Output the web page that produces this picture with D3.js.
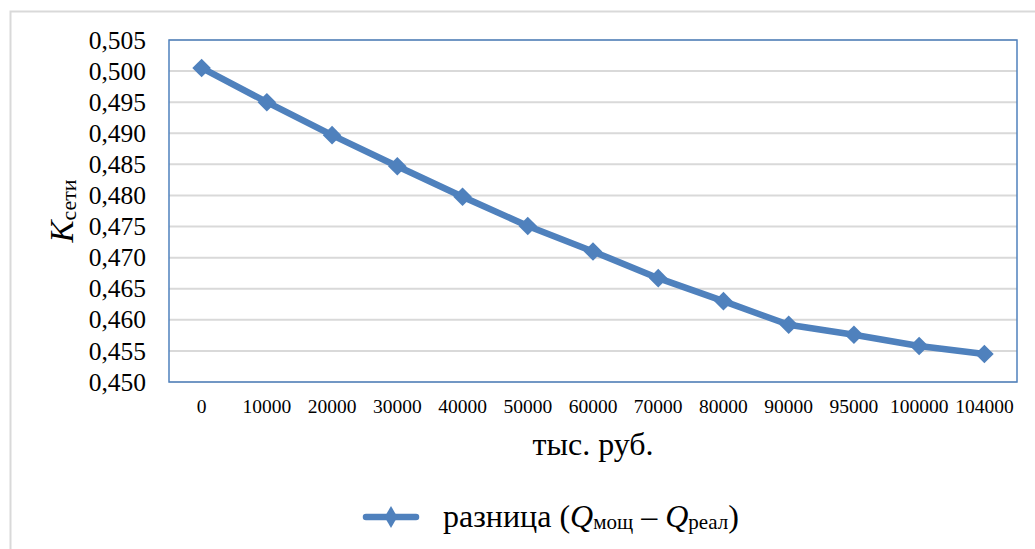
<!DOCTYPE html>
<html><head><meta charset="utf-8">
<script src="https://cdn.jsdelivr.net/npm/d3@7"></script>
<style>body{margin:0;background:#fff}svg{display:block}
svg text{font-family:"Liberation Serif","Times New Roman","DejaVu Serif",serif !important;}</style>
</head><body>
<script>
const categories = ["0","10000","20000","30000","40000","50000","60000","70000","80000","90000","95000","100000","104000"];
const values = [0.5005,0.4950,0.4897,0.4847,0.4798,0.4751,0.4710,0.4667,0.4630,0.4592,0.4576,0.4558,0.4545];
const yTicks = [0.450,0.455,0.460,0.465,0.470,0.475,0.480,0.485,0.490,0.495,0.500,0.505];

const W=1035,H=549;
const svg=d3.select("body").append("svg").attr("width",W).attr("height",H);
const m={l:169,t:40,r:1017,b:382};
svg.append("rect").attr("x",10.5).attr("y",11.5).attr("width",1040).attr("height",560)
  .attr("fill","#fff").attr("stroke","#d9d9d9").attr("stroke-width",2);

const x=d3.scaleBand().domain(categories).range([m.l,m.r]);
const y=d3.scaleLinear().domain([0.450,0.505]).range([m.b,m.t]);

// gridlines
svg.append("g").selectAll("line").data(yTicks).join("line")
  .attr("x1",m.l).attr("x2",m.r).attr("y1",d=>y(d)).attr("y2",d=>y(d))
  .attr("stroke","#d9d9d9").attr("stroke-width",2);

// plot border
svg.append("rect").attr("x",m.l).attr("y",m.t).attr("width",m.r-m.l).attr("height",m.b-m.t)
  .attr("fill","none").attr("stroke","#4f81bd").attr("stroke-width",1.5);

// y axis
const fmt=d=>d3.format(".3f")(d).replace(".",",");
const ya=svg.append("g").attr("transform",`translate(${m.l},0)`)
  .call(d3.axisLeft(y).tickValues(yTicks).tickFormat(fmt).tickSize(0).tickPadding(23));
ya.select(".domain").remove();
ya.selectAll("text").attr("font-size",25.5).attr("fill","#000");

// x axis
const xa=svg.append("g").attr("transform",`translate(0,${m.b})`)
  .call(d3.axisBottom(x).tickSize(0).tickPadding(17));
xa.select(".domain").remove();
xa.selectAll("text").attr("font-size",19.5).attr("fill","#000");

// line
const line=d3.line().x((d,i)=>x(categories[i])+x.bandwidth()/2).y(d=>y(d));
svg.append("path").datum(values).attr("d",line).attr("fill","none")
  .attr("stroke","#4f81bd").attr("stroke-width",6.5).attr("stroke-linejoin","round");
const diamond=d3.symbol().type(d3.symbolDiamond2).size(220);
svg.append("g").selectAll("path").data(values).join("path")
  .attr("d",diamond)
  .attr("transform",(d,i)=>`translate(${x(categories[i])+x.bandwidth()/2},${y(d)})`)
  .attr("fill","#4f81bd");

// y title
const yt=svg.append("text").attr("transform",`translate(73,${(m.t+m.b)/2}) rotate(-90)`)
  .attr("text-anchor","middle").attr("fill","#000");
yt.append("tspan").attr("font-style","italic").attr("font-size",33).text("K");
yt.append("tspan").attr("font-size",22).attr("dy",3).text("сети");

// x title
svg.append("text").attr("x",(m.l+m.r)/2).attr("y",455).attr("text-anchor","middle")
  .attr("font-size",32).attr("fill","#000").text("тыс. руб.");

// legend
svg.append("line").attr("x1",366).attr("x2",416).attr("y1",517).attr("y2",517)
  .attr("stroke","#4f81bd").attr("stroke-width",6.5).attr("stroke-linecap","round");
svg.append("path").attr("d",d3.symbol().type(d3.symbolDiamond).size(140)).attr("transform","translate(391,517)").attr("fill","#4f81bd");
const lt=svg.append("text").attr("x",443).attr("y",527).attr("font-size",32).attr("fill","#000");
lt.append("tspan").text("разница (");
lt.append("tspan").attr("font-style","italic").text("Q");
lt.append("tspan").attr("font-size",21).attr("dy",2).text("мощ");
lt.append("tspan").attr("dy",-2).text(" – ");
lt.append("tspan").attr("font-style","italic").text("Q");
lt.append("tspan").attr("font-size",21).attr("dy",2).text("реал");
lt.append("tspan").attr("dy",-2).text(")");
</script>
</body></html>
